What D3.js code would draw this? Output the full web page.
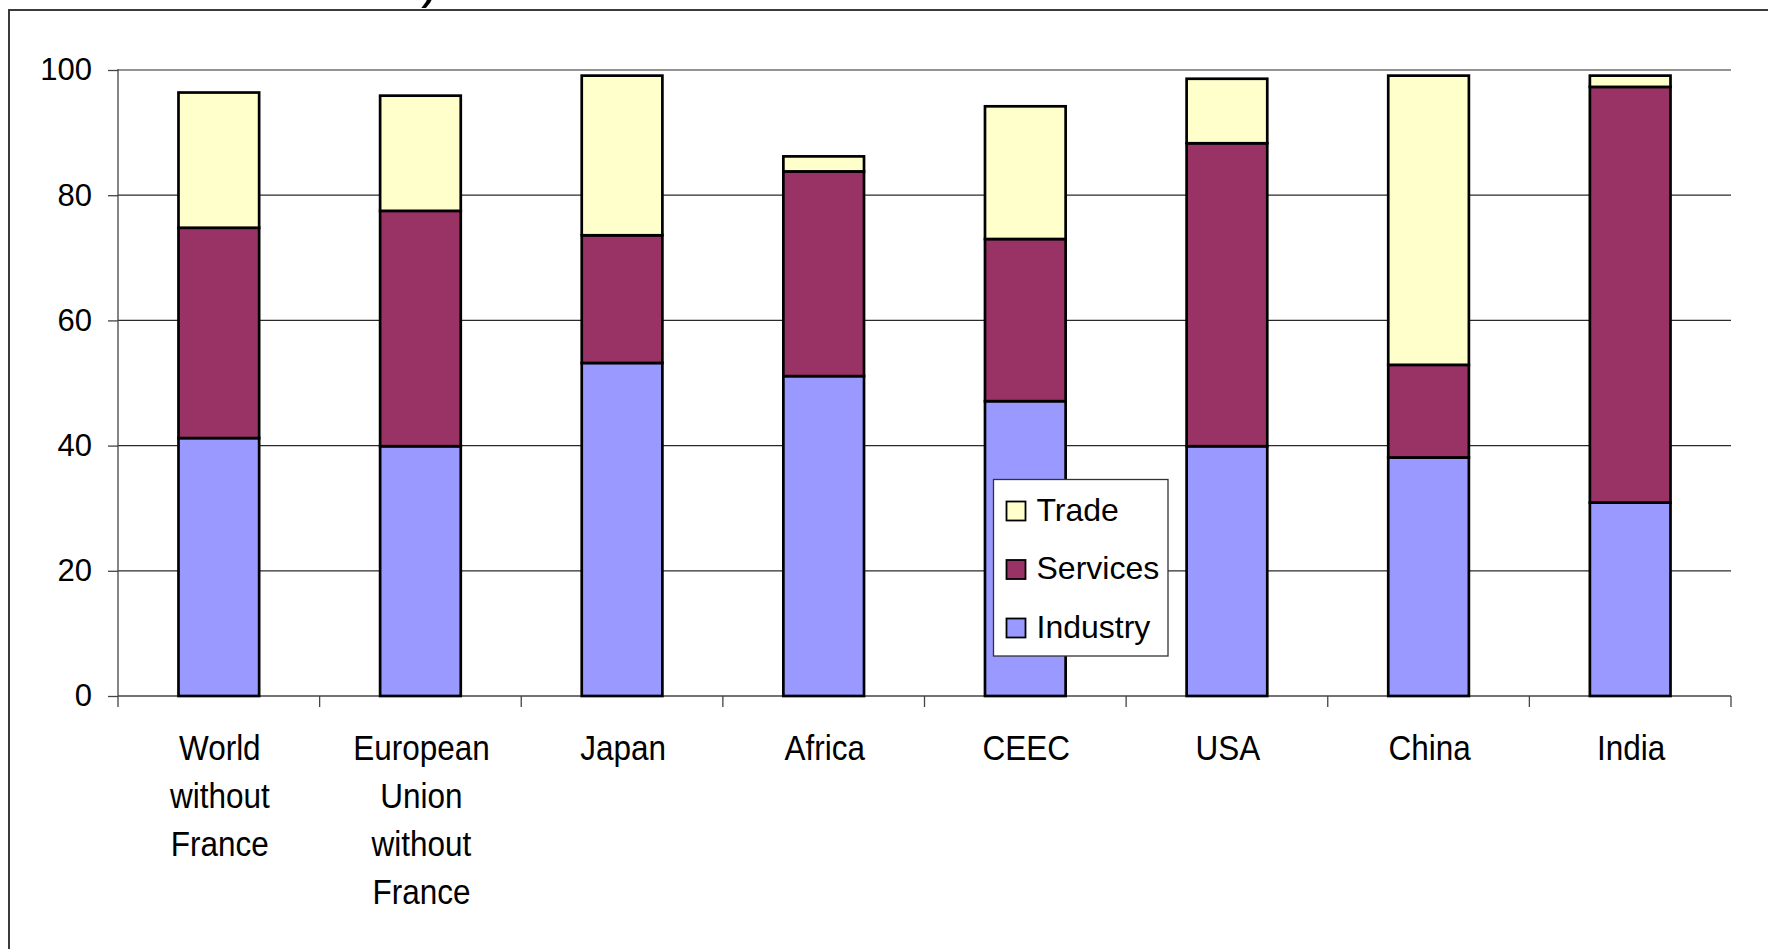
<!DOCTYPE html>
<html>
<head>
<meta charset="utf-8">
<script src="https://cdn.jsdelivr.net/npm/d3@7"></script>
<style>
  body { margin: 0; background: #fff; }
  text { font-family: "Liberation Sans", Arial, sans-serif; fill: #000; }
</style>
</head>
<body>
<div id="chart"></div>
<script>
// Chart data
var categories = ["World without France", "European Union without France", "Japan", "Africa", "CEEC", "USA", "China", "India"];
var categoryLines = [["World", "without", "France"], ["European", "Union", "without", "France"], ["Japan"], ["Africa"], ["CEEC"], ["USA"], ["China"], ["India"]];
var industry = [41.2, 39.9, 53.2, 51.1, 47.1, 39.9, 38.1, 30.9];
var services = [33.6, 37.6, 20.4, 32.7, 25.9, 48.4, 14.8, 66.4];
var trade = [21.6, 18.4, 25.5, 2.4, 21.2, 10.3, 46.2, 1.8];
var seriesNames = ["Industry", "Services", "Trade"];
var yTicks = [0, 20, 40, 60, 80, 100];

var colors = { Industry: "#9999ff", Services: "#993366", Trade: "#ffffcc" };

// SVG area
var svgWidth = 1768;
var svgHeight = 949;

var plot = { left: 118, right: 1731, top: 70, bottom: 696 };

var svg = d3.select("#chart")
  .append("svg")
  .attr("width", svgWidth)
  .attr("height", svgHeight);

// Build rows for the stack
var rows = categories.map(function(c, i) {
  return { category: c, Industry: industry[i], Services: services[i], Trade: trade[i] };
});

var stacked = d3.stack().keys(seriesNames)(rows);

// Scales
var xScale = d3.scaleBand()
  .domain(categories)
  .range([plot.left, plot.right])
  .paddingInner(0.6)
  .paddingOuter(0.3);

var yScale = d3.scaleLinear()
  .domain([0, 100])
  .range([plot.bottom, plot.top]);

// Cut-off title fragment (the reference is cropped through the title) and outer frame
svg.append("text")
  .attr("x", 421)
  .attr("y", -3)
  .style("font-size", "54px")
  .text(")");

svg.append("path")
  .attr("d", "M" + 9 + "," + svgHeight + "V" + 10 + "H" + svgWidth)
  .attr("fill", "none")
  .attr("stroke", "#3a3a3a")
  .attr("stroke-width", 2);

// Gridlines
svg.append("g")
  .selectAll("line")
  .data(yTicks.filter(function(d) { return d > 0; }))
  .enter()
  .append("line")
  .attr("x1", plot.left)
  .attr("x2", plot.right)
  .attr("y1", function(d) { return yScale(d); })
  .attr("y2", function(d) { return yScale(d); })
  .attr("stroke", "#2a2a2a")
  .attr("stroke-width", 1.2);

// Y axis
var leftAxis = d3.axisLeft(yScale)
  .tickValues(yTicks)
  .tickSize(10)
  .tickPadding(16);

var yAxisG = svg.append("g")
  .attr("transform", "translate(" + plot.left + ",0)")
  .call(leftAxis);

yAxisG.select(".domain")
  .attr("d", "M0," + yScale(0) + "V" + (yScale(100) - 1))
  .attr("stroke", "#444")
  .attr("stroke-width", 1.3);
yAxisG.selectAll(".tick line").attr("stroke", "#444").attr("stroke-width", 1.3);
yAxisG.selectAll(".tick text")
  .style("font-size", "31px")
  .attr("fill", "#000");

// X axis line and ticks at band edges
var step = xScale.step();
var edges = d3.range(categories.length + 1).map(function(i) { return plot.left + i * step; });

svg.append("line")
  .attr("x1", plot.left)
  .attr("x2", plot.right)
  .attr("y1", plot.bottom)
  .attr("y2", plot.bottom)
  .attr("stroke", "#444")
  .attr("stroke-width", 1.3);

svg.append("g")
  .selectAll("line")
  .data(edges)
  .enter()
  .append("line")
  .attr("x1", function(d) { return d; })
  .attr("x2", function(d) { return d; })
  .attr("y1", plot.bottom)
  .attr("y2", plot.bottom + 11)
  .attr("stroke", "#444")
  .attr("stroke-width", 1.3);

// Stacked bars
svg.append("g")
  .selectAll("g")
  .data(stacked)
  .enter()
  .append("g")
  .attr("fill", function(d) { return colors[d.key]; })
  .selectAll("rect")
  .data(function(d) { return d; })
  .enter()
  .append("rect")
  .attr("x", function(d) { return xScale(d.data.category); })
  .attr("y", function(d) { return yScale(d[1]); })
  .attr("width", xScale.bandwidth())
  .attr("height", function(d) { return yScale(d[0]) - yScale(d[1]); })
  .attr("stroke", "#000")
  .attr("stroke-width", 2.7);

// Category labels
var labelG = svg.append("g")
  .selectAll("g")
  .data(categories)
  .enter()
  .append("g")
  .attr("transform", function(d) {
    return "translate(" + (xScale(d) + xScale.bandwidth() / 2 + 1) + ",760) scale(0.9,1)";
  });

labelG.selectAll("text")
  .data(function(d, i) { return categoryLines[i]; })
  .enter()
  .append("text")
  .attr("y", function(d, i) { return i * 48; })
  .attr("text-anchor", "middle")
  .style("font-size", "35px")
  .text(function(d) { return d; });

// Legend
var legend = svg.append("g")
  .attr("transform", "translate(993.5,479.5)");

legend.append("rect")
  .attr("width", 174.5)
  .attr("height", 176.5)
  .attr("fill", "#fff")
  .attr("stroke", "#333")
  .attr("stroke-width", 1.3);

var legendOrder = seriesNames.slice().reverse();

var legendItem = legend.selectAll(".item")
  .data(legendOrder)
  .enter()
  .append("g")
  .attr("class", "item")
  .attr("transform", function(d, i) { return "translate(13," + (22 + i * 58.5) + ")"; });

legendItem.append("rect")
  .attr("width", 19)
  .attr("height", 19)
  .attr("fill", function(d) { return colors[d]; })
  .attr("stroke", "#000")
  .attr("stroke-width", 1.8);

legendItem.append("text")
  .attr("x", 30)
  .attr("y", 19)
  .style("font-size", "32px")
  .text(function(d) { return d; });
</script>
</body>
</html>
